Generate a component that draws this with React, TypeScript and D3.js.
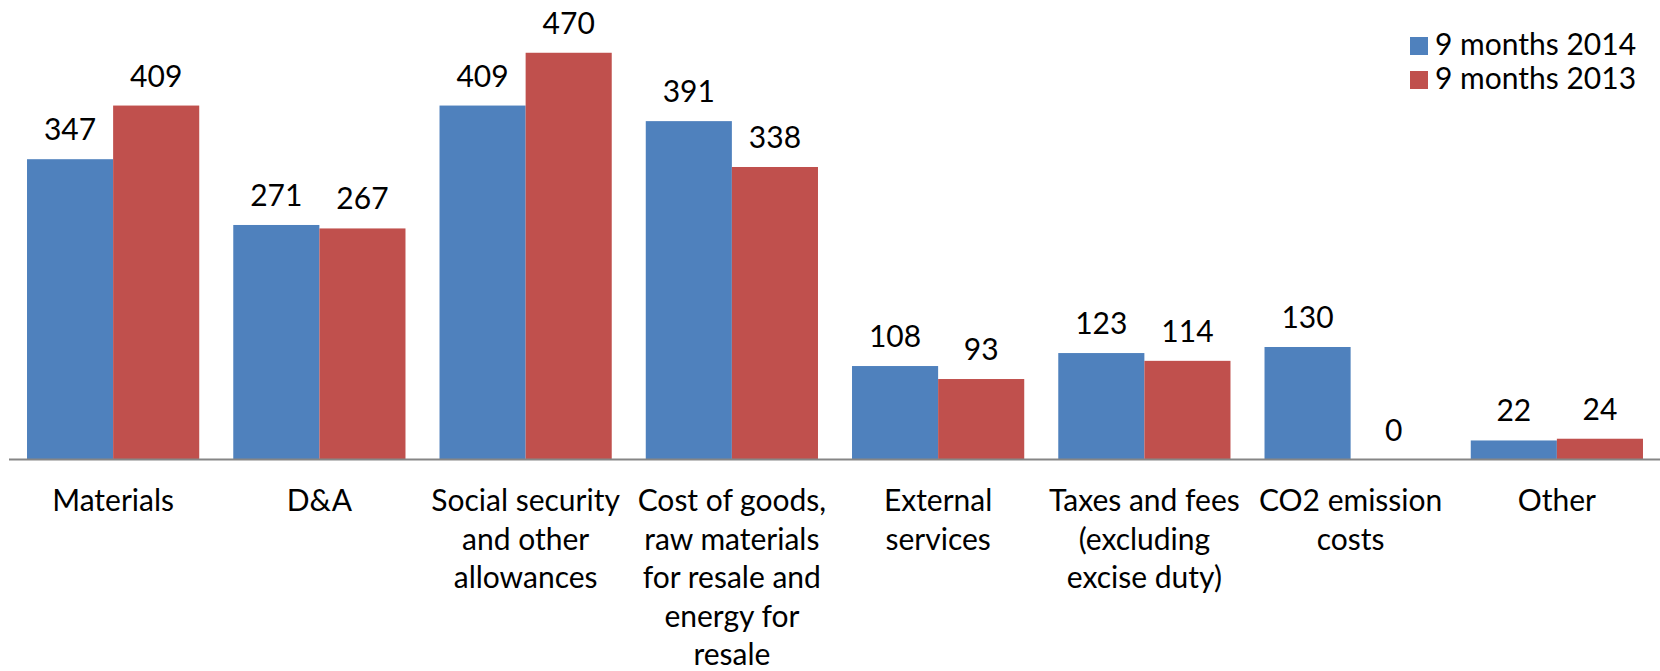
import React from "react";
import * as d3 from "d3";

const categories: string[][] = [
  ["Materials"],
  ["D&A"],
  ["Social security", "and other", "allowances"],
  ["Cost of goods,", "raw materials", "for resale and", "energy for", "resale"],
  ["External", "services"],
  ["Taxes and fees", "(excluding", "excise duty)"],
  ["CO2 emission", "costs"],
  ["Other"],
];
const seriesNames = ["9 months 2014", "9 months 2013"];
const values2014 = [347, 271, 409, 391, 108, 123, 130, 22];
const values2013 = [409, 267, 470, 338, 93, 114, 0, 24];
const colors = ["#4F81BD", "#C0504D"];

const W = 1660;
const H = 671;
const FONT = "Lato, 'Open Sans', sans-serif";
const FS = 30;

export default function App() {
  const keys = categories.map((c) => c.join(" "));
  const x0 = d3.scaleBand<string>().domain(keys).range([10, 1660]).padding(0);
  const bw = x0.bandwidth();
  const x1 = d3
    .scaleBand<number>()
    .domain([0, 1])
    .range([bw * 0.0825, bw * (1 - 0.0825)])
    .padding(0);
  const y = d3.scaleLinear().domain([0, 500]).range([459.5, 26.8]);
  const series = [values2014, values2013];

  return (
    <svg
      width={W}
      height={H}
      style={{ position: "absolute", left: 0, top: 0, display: "block", background: "#fff" }}
      fontFamily={FONT}
    >
      <rect x={0} y={0} width={W} height={H} fill="#fff" />
      {keys.map((k, i) => (
        <g key={k} transform={`translate(${x0(k)},0)`}>
          {series.map((vals, s) => (
            <rect
              key={s}
              x={x1(s)}
              y={y(vals[i])}
              width={x1.bandwidth()}
              height={y(0) - y(vals[i])}
              fill={colors[s]}
            />
          ))}
          {series.map((vals, s) => (
            <text
              key={"t" + s}
              x={(x1(s) as number) + x1.bandwidth() / 2}
              y={y(vals[i]) - 19}
              textAnchor="middle"
              fontSize={FS}
              fill="#000"
            >
              {vals[i]}
            </text>
          ))}
          {categories[i].map((line, li) => (
            <text
              key={"c" + li}
              x={bw / 2}
              y={511 + li * 38.5}
              textAnchor="middle"
              fontSize={FS}
              fill="#000"
            >
              {line}
            </text>
          ))}
        </g>
      ))}
      <line x1={9} x2={1660} y1={y(0)} y2={y(0)} stroke="#868686" strokeWidth={2.2} />
      {seriesNames.map((n, s) => (
        <g key={n}>
          <rect x={1410} y={37 + s * 34} width={18} height={18} fill={colors[s]} />
          <text x={1435} y={55 + s * 34} fontSize={FS} fill="#000">
            {n}
          </text>
        </g>
      ))}
    </svg>
  );
}
